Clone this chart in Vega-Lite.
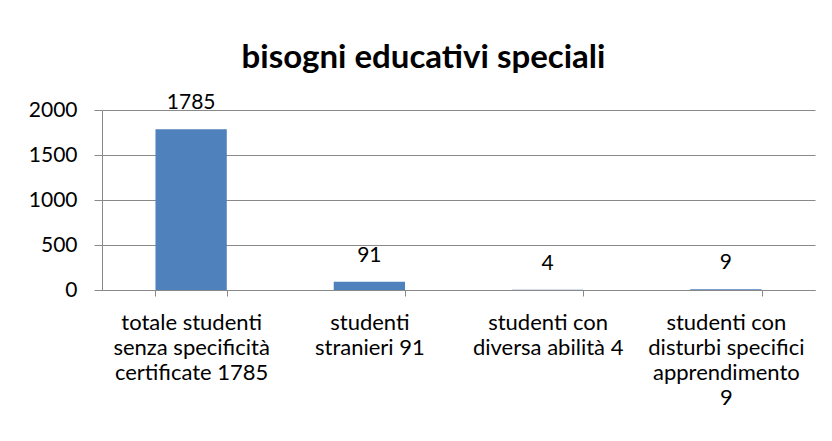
{
  "$schema": "https://vega.github.io/schema/vega-lite/v6.json",
  "width": 713,
  "height": 180,
  "autosize": {"type": "none"},
  "padding": {"left": 102, "top": 110, "right": 17, "bottom": 151},
  "background": "white",
  "title": {
    "text": "bisogni educativi speciali",
    "font": "Lato",
    "fontSize": 33,
    "fontWeight": "bold",
    "color": "#000000",
    "anchor": "middle",
    "dx": -35,
    "offset": 17
  },
  "data": {
    "values": [
      {"categoria": "totale studenti senza specificità certificate 1785", "valore": 1785},
      {"categoria": "studenti stranieri 91", "valore": 91},
      {"categoria": "studenti con diversa abilità 4", "valore": 4},
      {"categoria": "studenti con disturbi specifici apprendimento 9", "valore": 9}
    ]
  },
  "encoding": {
    "x": {
      "field": "categoria",
      "type": "nominal",
      "sort": null,
      "scale": {"paddingInner": 0.6, "paddingOuter": 0.3},
      "axis": {
        "title": null,
        "labelAngle": 0,
        "labelFont": "Lato",
        "labelFontSize": 22,
        "labelColor": "#000000",
        "labelLineHeight": 25,
        "labelBaseline": "top",
        "labelPadding": 16,
        "labelLimit": 300,
        "labelExpr": "datum.value == 'totale studenti senza specificità certificate 1785' ? ['totale studenti', 'senza specificità', 'certificate 1785'] : datum.value == 'studenti stranieri 91' ? ['studenti', 'stranieri 91'] : datum.value == 'studenti con diversa abilità 4' ? ['studenti con', 'diversa abilità 4'] : datum.value == 'studenti con disturbi specifici apprendimento 9' ? ['studenti con', 'disturbi specifici', 'apprendimento', '9'] : ''",
        "tickBand": "extent",
        "tickSize": 6,
        "tickColor": "#898989",
        "domainColor": "#898989",
        "grid": false
      }
    },
    "y": {
      "field": "valore",
      "type": "quantitative",
      "scale": {"domain": [0, 2000]},
      "axis": {
        "title": null,
        "values": [0, 500, 1000, 1500, 2000],
        "format": "d",
        "labelFont": "Lato",
        "labelFontSize": 21,
        "labelColor": "#000000",
        "labelPadding": 17,
        "tickSize": 8,
        "tickColor": "#898989",
        "domainColor": "#898989",
        "gridColor": "#898989",
        "gridOpacity": 1
      }
    }
  },
  "layer": [
    {"mark": {"type": "bar", "color": "#4F81BD"}},
    {
      "mark": {"type": "text", "font": "Lato", "fontSize": 21, "color": "#000000", "baseline": "middle", "dy": -26},
      "encoding": {"text": {"field": "valore", "type": "quantitative"}}
    }
  ],
  "config": {"view": {"stroke": null}}
}
